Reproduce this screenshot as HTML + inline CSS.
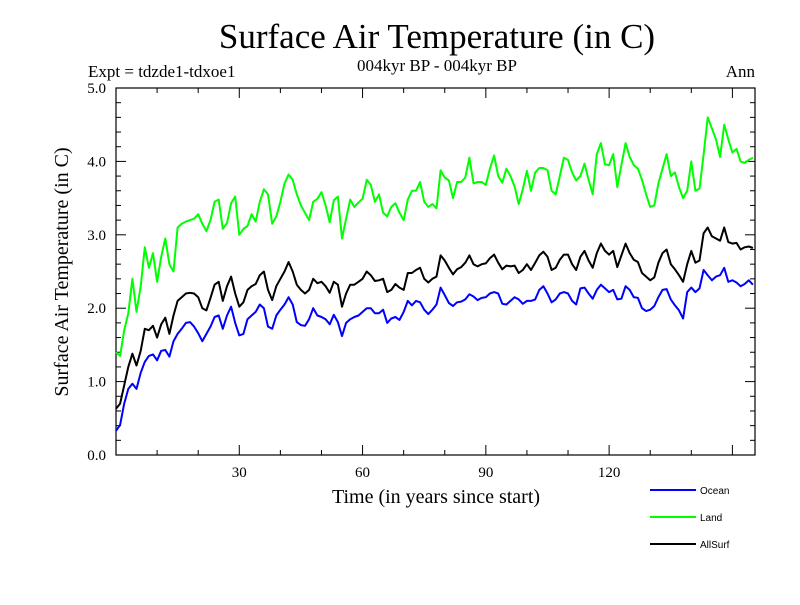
<!DOCTYPE html>
<html><head><meta charset="utf-8"><style>
body{margin:0;background:#fff}
svg text{font-family:"Liberation Serif",serif;fill:#000}
</style></head><body>
<svg width="800" height="600" xmlns="http://www.w3.org/2000/svg">
<rect width="800" height="600" fill="#fff"/>
<text x="437" y="48" font-size="35" text-anchor="middle">Surface Air Temperature (in C)</text>
<text x="437" y="71" font-size="17" text-anchor="middle">004kyr BP - 004kyr BP</text>
<text x="88" y="77" font-size="17">Expt = tdzde1-tdxoe1</text>
<text x="755" y="77" font-size="17" text-anchor="end">Ann</text>
<text transform="translate(68,272) rotate(-90)" font-size="20" text-anchor="middle">Surface Air Temperature (in C)</text>
<text x="436" y="503" font-size="20" text-anchor="middle">Time (in years since start)</text>
<g id="axes"></g>
<g id="series"></g>
<g id="legend"></g>
</svg>
<script>
const years0 = 0;
const ocean = [0.33,0.41,0.7,0.9,0.97,0.9,1.12,1.27,1.35,1.37,1.29,1.42,1.43,1.34,1.55,1.65,1.72,1.8,1.81,1.75,1.66,1.55,1.65,1.75,1.88,1.9,1.72,1.9,2.02,1.8,1.63,1.65,1.85,1.9,1.95,2.05,2.0,1.75,1.72,1.9,1.98,2.05,2.15,2.05,1.81,1.77,1.76,1.85,2.0,1.9,1.88,1.85,1.78,1.91,1.81,1.62,1.8,1.85,1.88,1.9,1.95,2.0,2.0,1.93,1.93,1.98,1.8,1.86,1.88,1.84,1.95,2.1,2.04,2.1,2.08,1.98,1.92,1.98,2.05,2.28,2.18,2.07,2.03,2.08,2.09,2.12,2.19,2.16,2.11,2.14,2.15,2.2,2.22,2.2,2.06,2.05,2.1,2.15,2.12,2.06,2.1,2.1,2.12,2.25,2.3,2.2,2.08,2.12,2.2,2.22,2.2,2.1,2.05,2.27,2.28,2.2,2.13,2.25,2.32,2.27,2.22,2.25,2.12,2.13,2.3,2.25,2.15,2.14,2.0,1.96,1.98,2.03,2.15,2.25,2.26,2.12,2.04,1.97,1.86,2.22,2.28,2.22,2.27,2.52,2.45,2.38,2.43,2.45,2.55,2.36,2.38,2.35,2.3,2.33,2.38,2.32];
const land = [1.4,1.35,1.7,1.93,2.4,1.95,2.3,2.83,2.55,2.75,2.36,2.7,2.95,2.6,2.5,3.1,3.15,3.18,3.2,3.22,3.28,3.15,3.05,3.2,3.45,3.48,3.08,3.16,3.43,3.52,3.0,3.08,3.12,3.28,3.18,3.45,3.62,3.55,3.15,3.25,3.45,3.7,3.82,3.75,3.55,3.4,3.3,3.2,3.45,3.49,3.58,3.4,3.17,3.47,3.52,2.95,3.22,3.48,3.38,3.44,3.49,3.75,3.68,3.45,3.55,3.3,3.25,3.38,3.43,3.3,3.2,3.48,3.6,3.6,3.72,3.45,3.38,3.42,3.36,3.88,3.78,3.74,3.5,3.72,3.72,3.78,4.05,3.7,3.72,3.72,3.68,3.9,4.08,3.8,3.71,3.9,3.8,3.66,3.42,3.62,3.87,3.6,3.85,3.91,3.91,3.88,3.6,3.55,3.8,4.05,4.02,3.85,3.74,3.8,3.97,3.75,3.55,4.1,4.25,3.96,3.95,4.1,3.65,3.95,4.25,4.06,3.95,3.9,3.75,3.55,3.38,3.4,3.7,3.9,4.1,3.8,3.85,3.65,3.5,3.6,4.0,3.6,3.63,4.09,4.6,4.45,4.3,4.06,4.5,4.3,4.12,4.17,4.0,3.98,4.02,4.05];
const allsurf = [0.63,0.7,0.95,1.2,1.38,1.22,1.42,1.72,1.7,1.76,1.6,1.78,1.87,1.65,1.9,2.1,2.15,2.2,2.21,2.2,2.15,2.0,1.97,2.14,2.32,2.36,2.1,2.3,2.43,2.2,2.02,2.08,2.25,2.3,2.33,2.45,2.5,2.25,2.11,2.3,2.4,2.5,2.63,2.5,2.32,2.25,2.2,2.25,2.4,2.34,2.36,2.3,2.21,2.36,2.32,2.02,2.2,2.32,2.32,2.36,2.4,2.5,2.45,2.37,2.38,2.4,2.22,2.25,2.33,2.28,2.25,2.48,2.48,2.52,2.55,2.4,2.35,2.4,2.43,2.72,2.65,2.55,2.46,2.53,2.56,2.62,2.72,2.6,2.57,2.6,2.61,2.68,2.73,2.62,2.53,2.58,2.57,2.58,2.48,2.52,2.6,2.52,2.62,2.72,2.77,2.7,2.52,2.55,2.66,2.73,2.73,2.6,2.52,2.7,2.78,2.65,2.55,2.75,2.88,2.78,2.73,2.78,2.56,2.72,2.88,2.75,2.66,2.63,2.48,2.43,2.38,2.42,2.62,2.75,2.8,2.6,2.53,2.45,2.36,2.6,2.78,2.62,2.65,3.02,3.1,2.98,2.95,2.92,3.1,2.9,2.88,2.89,2.8,2.83,2.84,2.82];
const xTicks = [30,60,90,120];
const yTicks = [0,1,2,3,4,5];
const yTickLabels = ["0.0","1.0","2.0","3.0","4.0","5.0"];
const seriesNames = ["Ocean","Land","AllSurf"];
const seriesColors = ["#0000ff","#00ff00","#000000"];

const NS="http://www.w3.org/2000/svg";
const L=116,R=755,T=88,B=455,xMin=0,xMax=155.5,yMin=0,yMax=5;
const xs=v=>L+(v-xMin)/(xMax-xMin)*(R-L);
const ys=v=>B-(v-yMin)/(yMax-yMin)*(B-T);
function mk(tag,attrs,parent){const e=document.createElementNS(NS,tag);for(const k in attrs)e.setAttribute(k,attrs[k]);parent.appendChild(e);return e;}
const axes=document.getElementById('axes');
const frame=mk('rect',{x:L,y:T,width:R-L,height:B-T,fill:'none',stroke:'#000','stroke-width':1.2},axes);


for(let v=0;v<=5.0001;v+=0.2){
  const major=Math.abs(v-Math.round(v))<1e-6;const len=major?10:5;const y=ys(v);
  const t1=mk('line',{x1:L,x2:L+len,y1:y,y2:y,stroke:'#000','stroke-width':1},axes);
  
  
  const t2=mk('line',{x1:R,x2:R-len,y1:y,y2:y,stroke:'#000','stroke-width':1},axes);
  
  
}
yTicks.forEach((v,i)=>{
  const t=mk('text',{x:L-10,y:ys(v)+5,'font-size':15,'text-anchor':'end'},axes);t.textContent=yTickLabels[i];
  
  
});
for(let v=10;v<xMax;v+=10){
  const major=v%30===0;const len=major?10:5;const x=xs(v);
  const a=mk('line',{x1:x,x2:x,y1:B,y2:B-len,stroke:'#000','stroke-width':1},axes);
  
  
  const b=mk('line',{x1:x,x2:x,y1:T,y2:T+len,stroke:'#000','stroke-width':1},axes);
  
  
}
xTicks.forEach(v=>{
  const t=mk('text',{x:xs(v),y:B+22,'font-size':15,'text-anchor':'middle'},axes);t.textContent=String(v);
  
  
});
const sg=document.getElementById('series');
[ocean,land,allsurf].forEach((arr,si)=>{
  const pts=arr.map((v,i)=>xs(years0+i).toFixed(1)+','+ys(v).toFixed(1)).join(' ');
  const p=mk('polyline',{points:pts,fill:'none',stroke:seriesColors[si],'stroke-width':2,'stroke-linejoin':'round'},sg);
  
  
});
const lg=document.getElementById('legend');
seriesNames.forEach((n,i)=>{
  const y=490+i*27;
  const l=mk('line',{x1:650,x2:696,y1:y,y2:y,stroke:seriesColors[i],'stroke-width':2},lg);
  
  
  const t=mk('text',{x:700,y:y+4,'font-size':10,style:'font-family:"Liberation Sans",sans-serif'},lg);t.textContent=n;
  
  
});
</script>
</body></html>
